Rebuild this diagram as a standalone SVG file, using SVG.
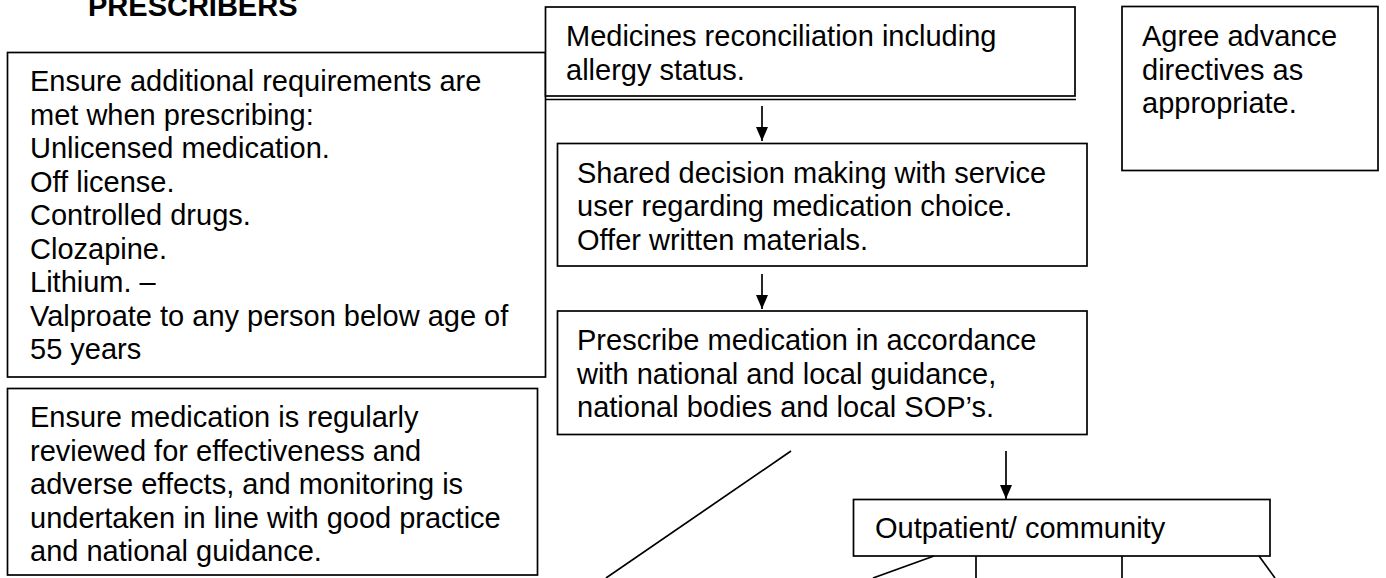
<svg xmlns="http://www.w3.org/2000/svg" width="1386" height="578" viewBox="0 0 1386 578">
<defs>
<style>
.box{fill:#fff;stroke:#000;stroke-width:1.7}
.t{font-family:"Liberation Sans",Arial,sans-serif;font-size:29px;fill:#000}
.title{font-family:"Liberation Sans",Arial,sans-serif;font-size:29px;font-weight:bold;fill:#000}
.ln{stroke:#000;stroke-width:1.7;fill:none}
</style>
<marker id="ah" viewBox="0 0 14 12" refX="14" refY="6" markerWidth="14" markerHeight="12" markerUnits="userSpaceOnUse" orient="auto">
<path d="M0,0 L14,6 L0,12 z" fill="#000"/>
</marker>
</defs>
<rect width="1386" height="578" fill="#fff"/>
<text class="title" x="88" y="16">PRESCRIBERS</text>
<g id="requirements">
<rect class="box" x="7.5" y="52.5" width="538" height="324.5"/>
<text class="t" x="30" y="91">Ensure additional requirements are</text>
<text class="t" x="30" y="124.5">met when prescribing:</text>
<text class="t" x="30" y="158">Unlicensed medication.</text>
<text class="t" x="30" y="191.5">Off license.</text>
<text class="t" x="30" y="225">Controlled drugs.</text>
<text class="t" x="30" y="258.5">Clozapine.</text>
<text class="t" x="30" y="292">Lithium. –</text>
<text class="t" x="30" y="325.5">Valproate to any person below age of</text>
<text class="t" x="30" y="359">55 years</text>
</g>
<g id="review">
<rect class="box" x="7.5" y="388.5" width="530" height="186.5"/>
<text class="t" x="30" y="427">Ensure medication is regularly</text>
<text class="t" x="30" y="460.5">reviewed for effectiveness and</text>
<text class="t" x="30" y="494">adverse effects, and monitoring is</text>
<text class="t" x="30" y="527.5">undertaken in line with good practice</text>
<text class="t" x="30" y="561">and national guidance.</text>
</g>
<g id="reconciliation">
<rect class="box" x="545.5" y="7" width="529.5" height="89"/>
<line class="ln" x1="545.5" y1="99.5" x2="1076" y2="99.5"/>
<text class="t" x="566" y="46">Medicines reconciliation including</text>
<text class="t" x="566" y="79.5">allergy status.</text>
</g>
<g id="advance">
<rect class="box" x="1122" y="6.5" width="256" height="164"/>
<text class="t" x="1142" y="46">Agree advance</text>
<text class="t" x="1142" y="79.5">directives as</text>
<text class="t" x="1142" y="113">appropriate.</text>
</g>
<g id="shared">
<rect class="box" x="557.5" y="143.5" width="529.5" height="122.5"/>
<text class="t" x="577" y="182.5">Shared decision making with service</text>
<text class="t" x="577" y="216">user regarding medication choice.</text>
<text class="t" x="577" y="249.5">Offer written materials.</text>
</g>
<g id="prescribe">
<rect class="box" x="557.5" y="311" width="529.5" height="123.5"/>
<text class="t" x="577" y="350">Prescribe medication in accordance</text>
<text class="t" x="577" y="383.5">with national and local guidance,</text>
<text class="t" x="577" y="417">national bodies and local SOP’s.</text>
</g>
<g id="outpatient">
<rect class="box" x="853.5" y="499.5" width="416.5" height="56.5"/>
<text class="t" x="875" y="538">Outpatient/ community</text>
</g>
<g id="connectors">
<line class="ln" x1="762" y1="106" x2="762" y2="141" marker-end="url(#ah)"/>
<line class="ln" x1="762" y1="274" x2="762" y2="309" marker-end="url(#ah)"/>
<line class="ln" x1="1006" y1="451" x2="1006" y2="499" marker-end="url(#ah)"/>
<line class="ln" x1="791" y1="451" x2="606" y2="578"/>
<line class="ln" x1="934" y1="556" x2="873" y2="578"/>
<line class="ln" x1="976" y1="556" x2="976" y2="578"/>
<line class="ln" x1="1122" y1="556" x2="1122" y2="578"/>
<line class="ln" x1="1259" y1="556" x2="1275" y2="578"/>
</g>
</svg>
